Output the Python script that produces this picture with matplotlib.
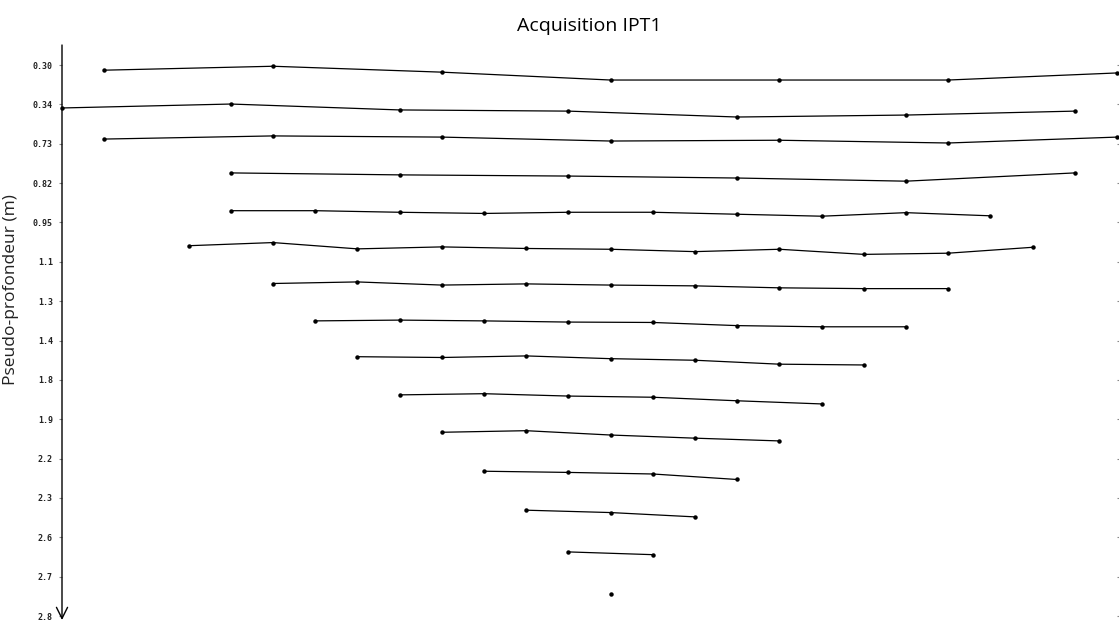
import matplotlib
matplotlib.use("Agg")
import matplotlib.pyplot as plt

# ---- data ----
title = "Acquisition IPT1"
ylabel = "Pseudo-profondeur (m)"
tick_labels = ["0.30", "0.34", "0.73", "0.82", "0.95", "1.1", "1.3", "1.4",
               "1.8", "1.9", "2.2", "2.3", "2.6", "2.7", "2.8"]

# horizontal positions (electrode-spacing units) of each measurement row
row0_x = [1, 5, 9, 13, 17, 21, 25]
row0_y = [0.13, 0.03, 0.18, 0.38, 0.38, 0.38, 0.20]
row1_x = [0, 4, 8, 12, 16, 20, 24]
row1_y = [1.09, 0.99, 1.14, 1.17, 1.32, 1.27, 1.17]
row2_x = [1, 5, 9, 13, 17, 21, 25]
row2_y = [1.88, 1.80, 1.83, 1.93, 1.91, 1.98, 1.83]
row3_x = [4, 8, 12, 16, 20, 24]
row3_y = [2.74, 2.79, 2.82, 2.87, 2.95, 2.74]
row4_x = [4, 6, 8, 10, 12, 14, 16, 18, 20, 22]
row4_y = [3.70, 3.70, 3.74, 3.77, 3.74, 3.74, 3.79, 3.84, 3.75, 3.83]
row5_x = [3, 5, 7, 9, 11, 13, 15, 17, 19, 21, 23]
row5_y = [4.59, 4.51, 4.67, 4.62, 4.66, 4.68, 4.74, 4.68, 4.81, 4.78, 4.63]
row6_x = [5, 7, 9, 11, 13, 15, 17, 19, 21]
row6_y = [5.55, 5.51, 5.59, 5.56, 5.59, 5.61, 5.66, 5.68, 5.68]
row7_x = [6, 8, 10, 12, 14, 16, 18, 20]
row7_y = [6.50, 6.48, 6.50, 6.53, 6.54, 6.62, 6.65, 6.65]
row8_x = [7, 9, 11, 13, 15, 17, 19]
row8_y = [7.41, 7.43, 7.39, 7.46, 7.50, 7.60, 7.62]
row9_x = [8, 10, 12, 14, 16, 18]
row9_y = [8.38, 8.35, 8.41, 8.44, 8.53, 8.61]
row10_x = [9, 11, 13, 15, 17]
row10_y = [9.33, 9.29, 9.40, 9.48, 9.55]
row11_x = [10, 12, 14, 16]
row11_y = [10.32, 10.35, 10.39, 10.53]
row12_x = [11, 13, 15]
row12_y = [11.31, 11.37, 11.48]
row13_x = [12, 14]
row13_y = [12.37, 12.44]
row14_x = [13]
row14_y = [13.44]

rows = [(row0_x, row0_y), (row1_x, row1_y), (row2_x, row2_y), (row3_x, row3_y),
        (row4_x, row4_y), (row5_x, row5_y), (row6_x, row6_y), (row7_x, row7_y),
        (row8_x, row8_y), (row9_x, row9_y), (row10_x, row10_y), (row11_x, row11_y),
        (row12_x, row12_y), (row13_x, row13_y), (row14_x, row14_y)]

# ---- figure ----
W, H = 1119, 626
fig = plt.figure(figsize=(W / 100, H / 100), dpi=100)
left, right, top, bottom = 62, 1117, 45, 620
ax = fig.add_axes([left / W, 1 - bottom / H, (right - left) / W, (bottom - top) / H])

for xs, ys in rows:
    ax.plot(xs, ys, color="black", lw=0.9, marker="o", markersize=2.2,
            markerfacecolor="black", markeredgecolor="black", clip_on=False)

ax.set_xlim(0, 25)
ax.set_ylim(14.1, -0.51)

ax.set_yticks(range(len(tick_labels)))
ax.set_yticklabels(tick_labels, fontsize=6, fontweight="bold",
                   family="DejaVu Sans Mono", color="#222222")
ax.tick_params(axis="y", length=2.5, width=0.8, color="#888888", pad=4,
               right=True, labelright=False)
ax.set_xticks([])

for s in ["top", "right", "bottom", "left"]:
    ax.spines[s].set_visible(False)

# left axis drawn as a downward arrow
ax.annotate("", xy=(0, 0), xytext=(0, 1), xycoords="axes fraction",
            textcoords="axes fraction",
            arrowprops=dict(arrowstyle="->", lw=1.0, color="black",
                            mutation_scale=20, shrinkA=0, shrinkB=0))

ax.set_title(title, fontsize=14, family="Open Sans", pad=10)
ax.set_ylabel(ylabel, fontsize=12.5, family="Open Sans", color="#222222")
ax.yaxis.set_label_coords(-0.041, 0.574)

fig.savefig("out.png", dpi=100)
